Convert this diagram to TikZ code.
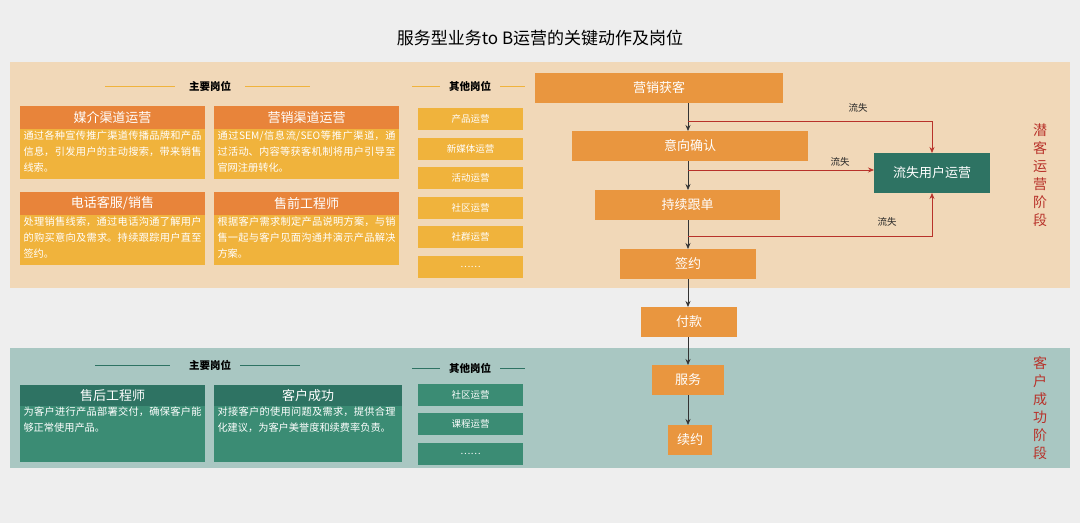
\documentclass[tikz,border=0pt]{standalone}
\usepackage{fontspec}
\setmainfont{Noto Sans CJK SC}
\XeTeXlinebreaklocale "zh"
\XeTeXlinebreakskip=0pt plus 1pt
\usetikzlibrary{arrows.meta}
\definecolor{bg}{HTML}{EEEEEE}
\definecolor{topband}{HTML}{F1D8B8}
\definecolor{botband}{HTML}{A9C7C2}
\definecolor{ohead}{HTML}{E8843A}
\definecolor{obody}{HTML}{F0B33C}
\definecolor{flowc}{HTML}{E9963F}
\definecolor{thead}{HTML}{2E7363}
\definecolor{tbody}{HTML}{3B8C74}
\definecolor{stage}{HTML}{B8322A}
\tikzset{x=1pt,y=-1pt,
 box/.style={inner sep=0pt,outer sep=0pt},
 card/.style={box,text=white,align=justify,text width=178pt,font=\fontsize{10.2}{16}\selectfont,anchor=north west},
 hd/.style={box,text=white,font=\fontsize{13}{14}\selectfont},
 other/.style={box,text=white,font=\fontsize{9.5}{11}\selectfont},
 flow/.style={box,fill=flowc,text=white,font=\fontsize{13}{15}\selectfont},
 arr/.style={-{Stealth[length=6pt,width=5pt]},black!80,line width=0.7pt},
 lossarr/.style={-{Stealth[length=6pt,width=5pt]},stage,line width=0.7pt},
 lbl/.style={font=\fontsize{9.5}{11}\selectfont,text=black!85}}
\begin{document}
\begin{tikzpicture}
\useasboundingbox (0,0) rectangle (1080,523);
\fill[bg] (0,0) rectangle (1080,523);
\node[font=\fontsize{17}{20}\selectfont] (title) at (540,38) {服务型业务to B运营的关键动作及岗位};
\fill[topband] (10,62) rectangle (1070,288);
\fill[botband] (10,348) rectangle (1070,468);
\node[text=stage,align=center,font=\fontsize{14}{18}\selectfont] (st1) at (1040,175) {潜\\客\\运\\营\\阶\\段};
\node[text=stage,align=center,font=\fontsize{14}{18}\selectfont] (st2) at (1040,408) {客\\户\\成\\功\\阶\\段};
% top headers
\node[font=\fontsize{10.5}{12}\selectfont\bfseries] (m1) at (210,86) {主要岗位};
\draw[obody,line width=0.8pt] (105,86) -- (175,86) (245,86) -- (310,86);
\node[font=\fontsize{10.5}{12}\selectfont\bfseries] (o1) at (470,86) {其他岗位};
\draw[obody,line width=0.8pt] (412,86) -- (440,86) (500,86) -- (525,86);
% top cards
\foreach \x/\y/\h/\t in {20/106/{媒介渠道运营}/{通过各种宣传推广渠道传播品牌和产品信息，引发用户的主动搜索，带来销售线索。},
 214/106/{营销渠道运营}/{通过SEM/信息流/SEO等推广渠道，通过活动、内容等获客机制将用户引导至官网注册转化。},
 20/192/{电话客服/销售}/{处理销售线索，通过电话沟通了解用户的购买意向及需求。持续跟踪用户直至签约。},
 214/192/{售前工程师}/{根据客户需求制定产品说明方案，与销售一起与客户见面沟通并演示产品解决方案。}}{
 \fill[ohead] (\x,\y) rectangle ++(185,23);
 \fill[obody] (\x,\y+23) rectangle ++(185,50);
 \node[hd] at (\x+92.5,\y+11.5) {\h};
 \node[card] at (\x+3.5,\y+25) {\t};
}
\foreach \y/\t in {108/产品运营,138/新媒体运营,167/活动运营,197/社区运营,226/社群运营,256/……}{
 \fill[obody] (418,\y) rectangle (523,\y+22);
 \node[other] at (470.5,\y+11) {\t};
}
% bottom headers
\node[font=\fontsize{10.5}{12}\selectfont\bfseries] (m2) at (210,365) {主要岗位};
\draw[thead,line width=0.8pt] (95,365) -- (170,365) (240,365) -- (300,365);
\node[font=\fontsize{10.5}{12}\selectfont\bfseries] (o2) at (470,368) {其他岗位};
\draw[thead,line width=0.8pt] (412,368) -- (440,368) (500,368) -- (525,368);
\foreach \x/\w/\h/\t in {20/185/{售后工程师}/{为客户进行产品部署交付，确保客户能够正常使用产品。},
 214/188/{客户成功}/{对接客户的使用问题及需求，提供合理化建议，为客户美誉度和续费率负责。}}{
 \fill[thead] (\x,385) rectangle ++(\w,21);
 \fill[tbody] (\x,406) rectangle ++(\w,56);
 \node[hd] at (\x+\w/2,395.5) {\h};
 \node[card] at (\x+3.5,407) {\t};
}
\foreach \y/\t in {384/社区运营,413/课程运营,443/……}{
 \fill[tbody] (418,\y) rectangle (523,\y+22);
 \node[other] at (470.5,\y+11) {\t};
}
% flow
\node[flow,minimum width=248pt,minimum height=30pt] (f1) at (659,88) {营销获客};
\node[flow,minimum width=236pt,minimum height=30pt] (f2) at (690,146) {意向确认};
\node[flow,minimum width=185pt,minimum height=30pt] (f3) at (687.5,205) {持续跟单};
\node[flow,minimum width=136pt,minimum height=30pt] (f4) at (688,264) {签约};
\node[flow,minimum width=96pt,minimum height=30pt] (f5) at (689,322) {付款};
\node[flow,minimum width=72pt,minimum height=30pt] (f6) at (688,380) {服务};
\node[flow,minimum width=44pt,minimum height=30pt] (f7) at (690,440) {续约};
\node[box,fill=thead,text=white,minimum width=116pt,minimum height=40pt,font=\fontsize{13}{15}\selectfont] (loss) at (932,173) {流失用户运营};
\foreach \a/\b in {f1/f2,f2/f3,f3/f4,f4/f5,f5/f6,f6/f7}{
 \draw[arr] (\a.south -| 688,0) -- (\b.north -| 688,0);
}
\coordinate (c1) at (688,121);
\coordinate (c2) at (688,170);
\coordinate (c3) at (688,236);
\draw[lossarr] (c1) -- (932,121) -- (loss.north);
\draw[lossarr] (c2) -- (loss.west |- c2);
\draw[lossarr] (c3) -- (932,236) -- (loss.south);
\node[lbl] (l1) at (858,108) {流失};
\node[lbl] (l2) at (840,162) {流失};
\node[lbl] (l3) at (887,222) {流失};
\end{tikzpicture}
\end{document}
